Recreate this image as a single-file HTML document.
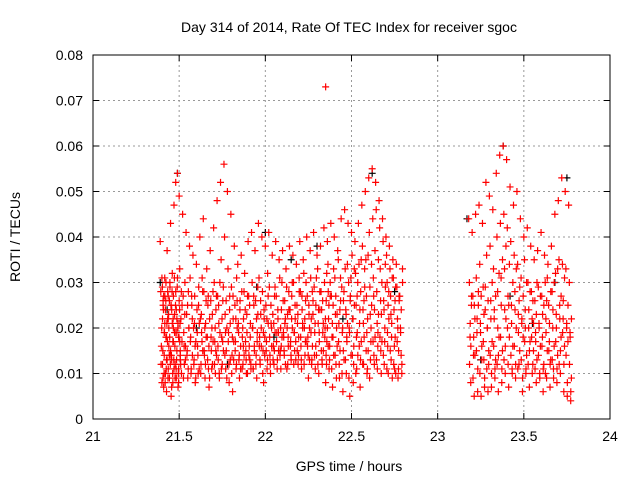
<!DOCTYPE html>
<html><head><meta charset="utf-8"><style>
html,body{margin:0;padding:0;background:#fff}
svg text{font-family:"Liberation Sans",sans-serif;font-size:14px;fill:#000}
</style></head><body>
<svg id="chart" width="640" height="480" viewBox="0 0 640 480" xmlns="http://www.w3.org/2000/svg">
<rect width="640" height="480" fill="#fff"/>
<g id="grid"></g><g id="ticks"></g><g id="marks"></g>
<rect x="93" y="55" width="517" height="364" fill="none" stroke="#000" stroke-width="1"/>
<text x="349" y="32" text-anchor="middle">Day 314 of 2014, Rate Of TEC Index for receiver sgoc</text>
<text x="349" y="471" text-anchor="middle">GPS time / hours</text>
<text x="20" y="237" text-anchor="middle" transform="rotate(-90 20 237)">ROTI / TECUs</text>
</svg>
<script>
const xTicks=[21,21.5,22,22.5,23,23.5,24];
const yTicks=[0,0.01,0.02,0.03,0.04,0.05,0.06,0.07,0.08];
const yTickLabels=["0","0.01","0.02","0.03","0.04","0.05","0.06","0.07","0.08"];
const redTimes=[21.39,21.40,21.41,21.42,21.43,21.44,21.45,21.46,21.47,21.48,21.49,21.50,21.52,21.54,21.56,21.58,21.60,21.62,21.64,21.66,21.68,21.70,21.72,21.74,21.76,21.78,21.80,21.82,21.84,21.86,21.88,21.90,21.92,21.94,21.96,21.98,22.00,22.02,22.04,22.06,22.08,22.10,22.12,22.14,22.16,22.18,22.20,22.22,22.24,22.26,22.28,22.30,22.32,22.34,22.35,22.36,22.38,22.40,22.42,22.44,22.46,22.48,22.50,22.52,22.54,22.56,22.58,22.60,22.62,22.64,22.66,22.68,22.70,22.72,22.74,22.76,22.78,
23.18,23.20,23.22,23.24,23.26,23.28,23.30,23.32,23.34,23.36,23.38,23.40,23.42,23.44,23.46,23.48,23.50,23.52,23.54,23.56,23.58,23.60,23.62,23.64,23.66,23.68,23.70,23.72,23.74,23.76];
const redRoti=[[.039,.028,.016,.008,.022,.026],[.031,.012,.025,.007,.019,.027],[.027,.014,.021,.010,.030,.018],[.024,.018,.006,.013,.028,.022],[.037,.022,.011,.016,.026,.014],[.020,.009,.029,.015,.005,.024],[.043,.025,.013,.021,.008,.017],[.032,.017,.027,.011,.023,.019],[.047,.019,.012,.028,.009,.022],[.052,.024,.015,.031,.007,.018],[.054,.021,.011,.026,.017,.013],[.049,.033,.014,.022,.010,.025],[.045,.027,.019,.012,.030,.016],[.041,.023,.015,.009,.028,.020],[.038,.031,.018,.011,.025,.014],[.036,.020,.013,.027,.008,.017],[.034,.024,.016,.010,.029,.021],[.040,.022,.012,.019,.031,.015],[.044,.028,.014,.009,.021,.018],[.033,.018,.025,.011,.007,.022],[.037,.026,.015,.020,.012,.017],[.042,.030,.017,.010,.024,.014],[.048,.027,.013,.021,.009,.019],[.052,.035,.018,.012,.026,.015],[.056,.040,.023,.011,.015,.020],[.050,.033,.019,.008,.027,.013],[.045,.029,.014,.006,.022,.017],[.038,.025,.017,.011,.031,.020],[.034,.021,.013,.009,.026,.016],[.036,.028,.018,.012,.022,.014],[.032,.024,.015,.010,.019,.027],[.039,.027,.016,.013,.021,.011],[.041,.030,.020,.011,.025,.015],[.037,.026,.014,.009,.019,.023],[.043,.031,.018,.012,.023,.016],[.040,.028,.015,.008,.022,.018],[.038,.025,.017,.011,.032,.021],[.041,.029,.014,.010,.021,.016],[.036,.023,.016,.012,.027,.019],[.039,.027,.019,.013,.022,.015],[.035,.031,.015,.011,.024,.018],[.037,.026,.018,.014,.021,.012],[.033,.029,.020,.012,.016,.024],[.038,.024,.017,.013,.027,.020],[.036,.030,.019,.015,.022,.013],[.034,.025,.021,.012,.018,.028],[.039,.028,.016,.011,.024,.020],[.035,.032,.020,.014,.026,.017],[.040,.027,.018,.009,.023,.013],[.037,.031,.022,.013,.016,.026],[.041,.029,.019,.011,.025,.014],[.036,.033,.021,.010,.017,.024],[.038,.028,.024,.012,.019,.015],[.042,.030,.020,.008,.026,.017],[.073],[.039,.034,.022,.011,.016,.027],[.043,.027,.018,.007,.025,.014],[.040,.031,.023,.012,.020,.016],[.037,.035,.021,.009,.015,.026],[.044,.029,.019,.006,.026,.013],[.046,.033,.024,.010,.017,.021],[.043,.030,.020,.005,.027,.014],[.041,.036,.022,.008,.016,.025],[.039,.032,.025,.011,.019,.014],[.043,.034,.021,.007,.028,.017],[.047,.038,.024,.012,.018,.029],[.050,.035,.027,.010,.022,.015],[.053,.041,.029,.013,.020,.025],[.055,.044,.031,.014,.024,.018],[.052,.046,.028,.011,.019,.023],[.048,.042,.033,.015,.023,.017],[.044,.039,.026,.012,.020,.029],[.040,.036,.030,.016,.010,.022],[.038,.033,.027,.013,.021,.009],[.035,.031,.024,.011,.018,.010],[.034,.029,.022,.009,.015,.026],[.027,.020,.014,.010,.033],
[.044,.030,.018,.008,.025],[.041,.027,.014,.005,.022],[.045,.031,.019,.006,.025],[.047,.034,.021,.005,.016],[.043,.029,.013,.007,.024],[.052,.036,.020,.006,.012],[.049,.038,.026,.007,.017],[.046,.033,.022,.009,.013],[.054,.040,.028,.006,.018],[.058,.043,.031,.008,.015],[.060,.045,.033,.010,.022],[.057,.042,.027,.007,.018],[.051,.039,.025,.011,.016],[.047,.036,.028,.009,.020],[.050,.034,.023,.012,.015],[.044,.031,.021,.006,.018],[.040,.035,.024,.010,.014],[.042,.030,.020,.007,.017],[.038,.028,.022,.012,.015],[.035,.026,.019,.008,.013],[.037,.029,.021,.010,.016],[.041,.027,.018,.006,.012],[.036,.030,.022,.009,.015],[.034,.025,.017,.007,.013],[.038,.028,.020,.011,.016],[.045,.032,.023,.008,.014],[.048,.035,.025,.010,.018],[.053,.034,.022,.006,.016],[.050,.033,.020,.005,.017],[.047,.030,.019,.004,.009]];
const redRotiExtra=[[.012,.020,.029,.009],[.015,.024,.010,.031],[.019,.008,.026,.013],[.011,.021,.017,.027],[.009,.023,.014,.030],[.018,.012,.025,.007],[.014,.028,.010,.020],[.022,.013,.031,.009],[.016,.025,.011,.019],[.013,.029,.020,.008],[.010,.018,.024,.015],[.021,.012,.028,.017],[.009,.016,.023,.013],[.014,.025,.011,.020],[.017,.010,.027,.022],[.012,.021,.016,.009],[.019,.014,.025,.011],[.010,.023,.017,.028],[.015,.020,.012,.026],[.013,.027,.016,.009],[.018,.011,.023,.028],[.012,.020,.015,.027],[.016,.025,.010,.030],[.011,.022,.017,.029],[.014,.019,.026,.009],[.017,.012,.024,.021],[.010,.018,.027,.013],[.015,.022,.012,.026],[.019,.014,.024,.011],[.011,.020,.016,.028],[.017,.013,.023,.010],[.014,.025,.018,.012],[.020,.011,.027,.016],[.012,.022,.017,.029],[.016,.013,.026,.020],[.010,.019,.024,.014],[.015,.022,.013,.027],[.018,.012,.025,.020],[.013,.021,.015,.029],[.017,.011,.024,.019],[.014,.020,.016,.030],[.019,.015,.026,.022],[.011,.023,.018,.028],[.016,.014,.022,.030],[.012,.019,.025,.017],[.015,.023,.014,.031],[.018,.013,.027,.021],[.012,.022,.017,.030],[.016,.014,.025,.020],[.019,.012,.028,.023],[.014,.021,.016,.031],[.012,.024,.019,.028],[.015,.013,.026,.021],[.018,.022,.014,.032],[.012,.020,.028],[.016,.025,.013,.030],[.011,.021,.018,.033],[.014,.027,.009,.023],[.017,.012,.024,.031],[.010,.020,.015,.028],[.013,.023,.018,.034],[.009,.019,.026,.031],[.014,.022,.012,.033],[.010,.018,.027,.030],[.016,.024,.013,.035],[.012,.021,.026,.033],[.015,.019,.011,.036],[.009,.023,.017,.034],[.017,.027,.012,.037],[.013,.021,.016,.035],[.018,.026,.010,.030],[.014,.024,.017,.034],[.011,.019,.025,.028],[.015,.023,.018,.031],[.012,.016,.026,.029],[.017,.020,.011,.027],[.019,.024,.012,.030],
[.012,.021,.016,.027],[.009,.018,.025,.014],[.015,.022,.011,.028],[.010,.019,.027,.013],[.017,.023,.009,.029],[.011,.020,.026,.015],[.014,.022,.010,.030],[.016,.024,.011,.027],[.012,.020,.014,.032],[.018,.025,.011,.035],[.013,.024,.016,.038],[.020,.012,.025,.034],[.014,.021,.010,.030],[.016,.024,.012,.033],[.011,.019,.026,.029],[.013,.022,.009,.027],[.017,.020,.011,.030],[.012,.024,.015,.028],[.018,.010,.026,.021],[.011,.017,.023,.030],[.014,.020,.009,.027],[.016,.023,.011,.025],[.010,.019,.026,.031],[.015,.021,.012,.028],[.013,.024,.009,.030],[.017,.020,.011,.033],[.012,.022,.015,.027],[.019,.026,.012,.031],[.014,.021,.008,.025],[.012,.018,.006,.022]];
const blackTimes=[21.39,21.43,21.49,21.60,21.78,21.95,22.00,22.05,22.15,22.30,22.45,22.62,22.75,23.17,23.25,23.38,23.42,23.55,23.68,23.75];
const blackRoti=[.030,.024,.054,.020,.012,.029,.041,.018,.035,.038,.022,.054,.028,.044,.013,.060,.027,.021,.030,.053];
const NS="http://www.w3.org/2000/svg";
const X0=93,X1=610,Y0=419,Y1=55;
function sx(t){return X0+(t-21)/(24-21)*(X1-X0);}
function sy(v){return Y0-(v-0)/(0.08-0)*(Y0-Y1);}
function mk(tag,attrs,parent){const e=document.createElementNS(NS,tag);for(const k in attrs)e.setAttribute(k,attrs[k]);parent.appendChild(e);return e;}
const grid=document.getElementById('grid'),ticks=document.getElementById('ticks'),marks=document.getElementById('marks');
xTicks.forEach((t,i)=>{const x=sx(t);
 if(i>0&&i<xTicks.length-1){const g=mk('line',{x1:x,x2:x,y1:Y1,y2:Y0,stroke:'#999','stroke-dasharray':'2,3'},grid);
 
 }
 mk('line',{x1:x,x2:x,y1:Y0,y2:Y0-6,stroke:'#000'},ticks);mk('line',{x1:x,x2:x,y1:Y1,y2:Y1+6,stroke:'#000'},ticks);
 const l=mk('text',{x:x,y:Y0+22,'text-anchor':'middle'},ticks);l.textContent=String(t);
 
 });
yTicks.forEach((v,i)=>{const y=sy(v);
 if(i>0&&i<yTicks.length-1){const g=mk('line',{x1:X0,x2:X1,y1:y,y2:y,stroke:'#999','stroke-dasharray':'2,3'},grid);
 
 }
 mk('line',{x1:X0,x2:X0+6,y1:y,y2:y,stroke:'#000'},ticks);mk('line',{x1:X1,x2:X1-6,y1:y,y2:y,stroke:'#000'},ticks);
 const l=mk('text',{x:X0-10,y:y+5,'text-anchor':'end'},ticks);l.textContent=yTickLabels[i];
 
 });
function plus(x,y,c){return mk('path',{d:`M${x-3.5} ${y}h7M${x} ${y-3.5}v7`,stroke:c,'stroke-width':1.2,fill:'none'},marks);}
blackTimes.forEach((t,i)=>{const p=plus(sx(t),sy(blackRoti[i]),'#000');
 
 });
redTimes.forEach((t,i)=>{const g=redRoti[i];g.forEach((v,j)=>{const dt=0.02*j/g.length;
 const p=plus(sx(t+dt),sy(v),'#f00');
 
 });
 const e=redRotiExtra[i]||[];e.forEach((v,j)=>{const dt=0.005+0.015*j/e.length;
 const p=plus(sx(t+dt),sy(v),'#f00');
 
 });});
</script>
</body></html>
